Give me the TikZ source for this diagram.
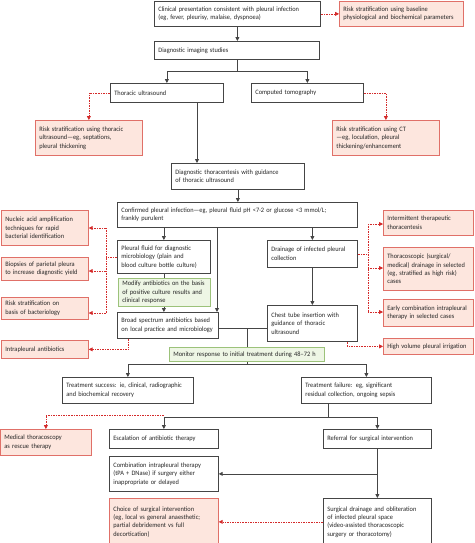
\documentclass[tikz,border=0pt]{standalone}
\usepackage{fontspec}
\setmainfont{Carlito}[FakeStretch=0.95]
\usetikzlibrary{arrows.meta}
\definecolor{boxgray}{HTML}{454545}
\definecolor{redline}{HTML}{D42A2A}
\definecolor{redborder}{HTML}{E07068}
\definecolor{redfill}{HTML}{FDE6DE}
\definecolor{greenborder}{HTML}{9CC27A}
\definecolor{greenfill}{HTML}{EEF6E5}
\tikzset{
  box/.style={draw=boxgray, line width=0.75pt, fill=white, align=left, anchor=north west,
    inner xsep=4pt, inner ysep=1pt, font=\fontsize{6.7}{8.4}\selectfont, text=black!85},
  redbox/.style={box, draw=redborder, fill=redfill},
  greenbox/.style={box, draw=greenborder, fill=greenfill},
  ln/.style={draw=boxgray, line width=0.75pt},
  arr/.style={ln, -{Triangle[length=3.8pt,width=3.8pt]}},
  rdot/.style={draw=redline, line width=0.65pt, densely dotted},
  rarr/.style={rdot, -{Triangle[length=3.8pt,width=3.8pt]}},
}
\begin{document}
\begin{tikzpicture}[x=1pt,y=-1pt]
\useasboundingbox (0,0) rectangle (474,543);
% main column
\node[box, text width=158, minimum height=25] (n1) at (154,1) {Clinical presentation consistent with pleural infection\\(eg, fever, pleurisy, malaise, dyspnoea)};
\node[redbox, text width=116, minimum height=25] (r1) at (339,1) {Risk stratification using baseline\\physiological and biochemical parameters};
\node[box, text width=157, minimum height=18] (n2) at (154,41) {Diagnostic imaging studies};
\node[box, text width=105, minimum height=19] (n3) at (110,83) {Thoracic ultrasound};
\node[box, text width=104, minimum height=19] (n4) at (251,83) {Computed tomography};
\node[redbox, text width=99, minimum height=35] (r2) at (35,120) {Risk stratification using thoracic\\ultrasound—eg, septations,\\pleural thickening};
\node[redbox, text width=99, minimum height=35] (r3) at (332,120) {Risk stratification using CT\\—eg, loculation, pleural\\thickening/enhancement};
\node[box, text width=125, minimum height=26] (n5) at (171,163) {Diagnostic thoracentesis with guidance\\of thoracic ultrasound};
\node[box, text width=232, minimum height=25] (n6) at (117,202) {Confirmed pleural infection—eg, pleural fluid pH <7·2 or glucose <3 mmol/L;\\frankly purulent};
\node[box, text width=85, minimum height=33] (n7) at (117,240) {Pleural fluid for diagnostic\\microbiology (plain and\\blood culture bottle culture)};
\node[box, text width=82, minimum height=27] (n8) at (267,240) {Drainage of infected pleural\\collection};
\node[greenbox, text width=84, minimum height=28] (g1) at (118,278) {Modify antibiotics on the basis\\of positive culture results and\\clinical response};
\node[box, text width=93, minimum height=26] (n9) at (117,312) {Broad spectrum antibiotics based\\on local practice and microbiology};
\node[box, text width=82, minimum height=36] (n10) at (267,305) {Chest tube insertion with\\guidance of thoracic\\ultrasound};
\node[greenbox, text width=147, minimum height=14] (g2) at (169,347) {Monitor response to initial treatment during 48–72 h};
\node[box, text width=123, minimum height=26] (n11) at (62,377) {Treatment success: ie, clinical, radiographic\\and biochemical recovery};
\node[box, text width=122, minimum height=26] (n12) at (301,377) {Treatment failure: eg, significant\\residual collection, ongoing sepsis};
\node[redbox, text width=83, minimum height=26] (r4) at (0,429) {Medical thoracoscopy\\as rescue therapy};
\node[box, text width=101, minimum height=19] (n13) at (109,429) {Escalation of antibiotic therapy};
\node[box, text width=100, minimum height=19] (n14) at (323,429) {Referral for surgical intervention};
\node[box, text width=101, minimum height=35] (n15) at (109,456) {Combination intrapleural therapy\\(tPA + DNase) if surgery either\\inappropriate or delayed};
\node[redbox, text width=101, minimum height=47] (r5) at (109,498) {Choice of surgical intervention\\(eg, local vs general anaesthetic;\\partial debridement vs full\\decortication)};
\node[box, text width=100, minimum height=47] (n16) at (323,498) {Surgical drainage and obliteration\\of infected pleural space\\(video-assisted thoracoscopic\\surgery or thoracotomy)};
% left red boxes
\node[redbox, text width=79, minimum height=35] (r6) at (1,210) {Nucleic acid amplification\\techniques for rapid\\bacterial identification};
\node[redbox, text width=79, minimum height=23] (r7) at (1,257) {Biopsies of parietal pleura\\to increase diagnostic yield};
\node[redbox, text width=79, minimum height=22] (r8) at (1,297) {Risk stratification on\\basis of bacteriology};
\node[redbox, text width=79, minimum height=18] (r9) at (1,340) {Intrapleural antibiotics};
% right red boxes
\node[redbox, text width=82, minimum height=25] (r10) at (383,210) {Intermittent therapeutic\\thoracentesis};
\node[redbox, text width=82, minimum height=43] (r11) at (383,247) {Thoracoscopic (surgical/\\medical) drainage in selected\\(eg, stratified as high risk)\\cases};
\node[redbox, text width=82, minimum height=27] (r12) at (383,299) {Early combination intrapleural\\therapy in selected cases};
\node[redbox, text width=82, minimum height=16] (r13) at (383,338) {High volume pleural irrigation};

% connectors - main
\draw[arr] (n1.south) -- (n1.south |- n2.north);
\draw[rarr] (n1.east) -- (r1.west);
\coordinate (j1) at (n2.south |- 0,71);
\draw[ln] (n2.south) -- (j1);
\draw[arr] (j1) -| (n3.north);
\draw[arr] (j1) -| (n4.north);
\draw[rarr] (n3.west) -| (r2.north);
\draw[rarr] (n4.east) -| (r3.north);
\draw[arr] (n3.south -| 197,0) -- (n5.north -| 197,0);
\draw[arr] (n5.south) -- (n5.south |- n6.north);
\draw[arr] (n7.north |- n6.south) -- (n7.north);
\draw[arr] (n8.north |- n6.south) -- (n8.north);
\draw[arr] (n6.south -| 217,0) -- (n9.north -| 217,0);
\draw[ln] (n7.south) -- (n7.south |- g1.north);
\draw[arr] (n7.south |- g1.south) -- (n7.south |- n9.north);
\draw[arr] (n8.south) -- (n10.north);
\coordinate (h1) at (n9.east |- 0,328);
\draw[ln] (h1) -- (h1 -| n10.west);
\draw[ln] (h1 -| g2.north) -- (g2.north);
\coordinate (j2) at (g2.south |- 0,364);
\draw[ln] (g2.south) -- (j2);
\draw[arr] (j2) -| (n11.north);
\draw[arr] (j2) -| (n12.north);
\coordinate (j3) at (328,417);
\draw[ln] (n12.south -| j3) -- (j3);
\draw[arr] (j3) -| (n13.north);
\draw[arr] (j3) -| (n14.north);
\coordinate (rd) at (n13.north |- 0,415);
\draw[rarr] (rd) -| (r4.north);
\draw[arr] (n14.south) -- (n16.north);
\draw[arr] (n14.south |- n15.east) -- (n15.east);
\draw[rarr] (n16.west) -- (r5.east);
% left dotted
\coordinate (L1) at (106,228);
\coordinate (L3) at (106,313);
\draw[rdot] (n7.west) -- (n7.west -| L1);
\draw[rdot] (L1) -- (L3);
\draw[rarr] (L1) -- (L1 -| r6.east);
\draw[rarr] (106,271) -- (r7.east |- 0,271);
\draw[rarr] (L3) -- (L3 -| r8.east);
\draw[rarr] (n9.south -| 128,0) |- (r9.east);
% right dotted
\coordinate (R1) at (368,224);
\coordinate (R3) at (368,312);
\draw[rdot] (n8.east) -- (n8.east -| R1);
\draw[rdot] (R1) -- (R3);
\draw[rarr] (R1) -- (R1 -| r10.west);
\draw[rarr] (368,268) -- (r11.west |- 0,268);
\draw[rarr] (R3) -- (R3 -| r12.west);
\draw[rarr] (n10.south -| 347,0) |- (r13.west);
\end{tikzpicture}
\end{document}
